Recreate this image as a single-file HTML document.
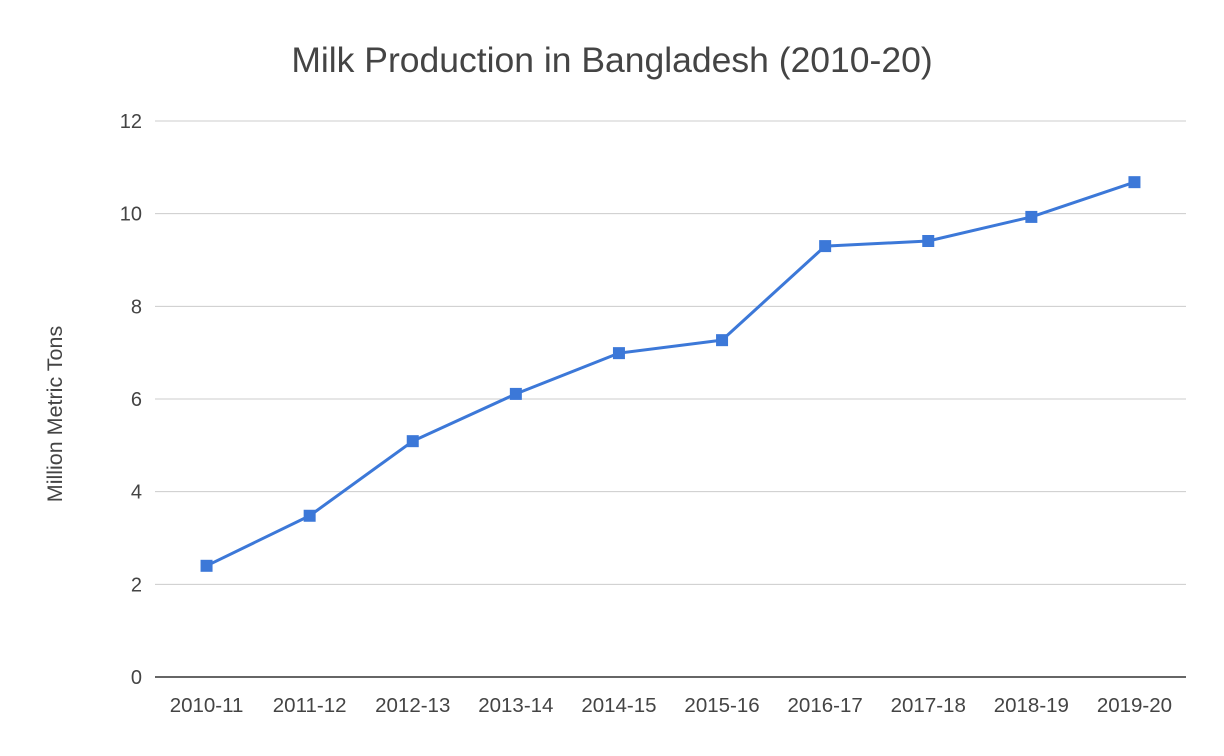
<!DOCTYPE html>
<html><head><meta charset="utf-8"><style>
html,body{margin:0;padding:0;background:#fff;}
svg{display:block;font-family:"Liberation Sans",sans-serif;}
</style></head><body>
<svg id="chart" width="1224" height="756">
<text x="612" y="72" text-anchor="middle" font-size="35.5" fill="#444">Milk Production in Bangladesh (2010-20)</text>
<text transform="translate(62,414) rotate(-90)" text-anchor="middle" font-size="21.5" fill="#444">Million Metric Tons</text>
<g id="grid"></g><g id="xlabels"></g><g id="series"></g>
</svg>
<script>
const categories=["2010-11","2011-12","2012-13","2013-14","2014-15","2015-16","2016-17","2017-18","2018-19","2019-20"];
const values=[2.4,3.48,5.09,6.11,6.99,7.27,9.3,9.41,9.93,10.68];
const yTicks=[0,2,4,6,8,10,12];
const NS="http://www.w3.org/2000/svg";
const L=155,R=1186,T=121,B=677,yMax=12;
const x=i=>L+(R-L)/categories.length*(i+0.5);
const y=v=>B-(B-T)*v/yMax;
function mk(tag,attrs,parent){const e=document.createElementNS(NS,tag);for(const k in attrs)e.setAttribute(k,attrs[k]);parent.appendChild(e);return e;}
const grid=document.getElementById('grid');
yTicks.forEach(t=>{
  const ln=mk('line',{x1:L,x2:R,y1:y(t),y2:y(t),stroke:t===0?'#333':'#ccc','stroke-width':t===0?1.5:1},grid);
  
  
  const tx=mk('text',{x:142,y:y(t)+7,'text-anchor':'end','font-size':20,fill:'#444'},grid);
  tx.textContent=t;
  
  
});
const xl=document.getElementById('xlabels');
categories.forEach((c,i)=>{
  const tx=mk('text',{x:x(i),y:712,'text-anchor':'middle','font-size':20.5,fill:'#444'},xl);
  tx.textContent=c;
  
  
});
const s=document.getElementById('series');
const pl=mk('polyline',{points:values.map((v,i)=>x(i)+','+y(v)).join(' '),fill:'none',stroke:'#3c78d8','stroke-width':3,'stroke-linejoin':'round'},s);


values.forEach((v,i)=>{
  const r=mk('rect',{x:x(i)-6,y:y(v)-6,width:12,height:12,fill:'#3c78d8'},s);
  
  
});
</script>
</body></html>
